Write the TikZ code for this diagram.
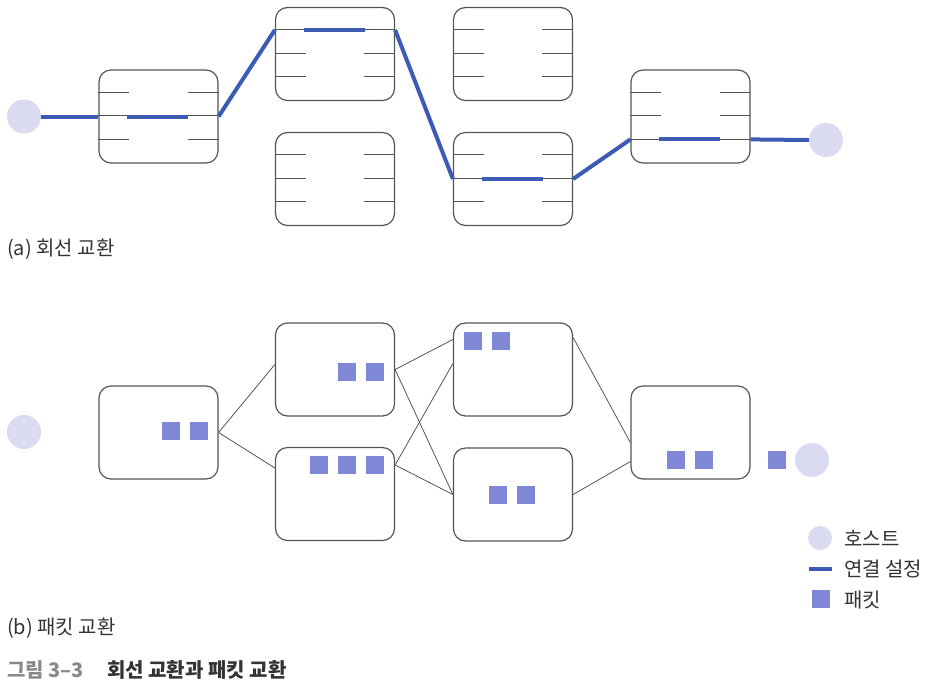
\documentclass[tikz,border=0pt]{standalone}
\usepackage{fontspec}
\setmainfont{Noto Sans CJK KR}
\usetikzlibrary{calc}
\definecolor{linkblue}{HTML}{3B5BB4}
\definecolor{hostc}{HTML}{DADAF0}
\definecolor{pktc}{HTML}{7F88D6}
\definecolor{boxc}{HTML}{555555}
\definecolor{capgray}{HTML}{8A8A8A}
\definecolor{txt}{HTML}{333333}
\tikzset{
  swbox/.style={draw=boxc,line width=1.2pt,rounded corners=12pt,minimum width=119pt,minimum height=93pt,inner sep=0pt},
  hostnode/.style={circle,fill=hostc,minimum size=34pt,inner sep=0pt},
  pkt/.style={fill=pktc,minimum size=18pt,inner sep=0pt,anchor=north west},
  stub/.style={draw=boxc,line width=0.9pt},
  link/.style={draw=linkblue,line width=4pt},
  wire/.style={draw=boxc,line width=0.8pt},
  lbl/.style={font=\fontsize{20}{22}\selectfont,text=txt,anchor=west,inner sep=0pt}
}
\newcommand{\swlines}[1]{%
  \foreach \r in {23,46.5,70}{%
    \draw[stub] ($(#1.north west)+(0,\r)$) -- ++(31,0);
    \draw[stub] ($(#1.north east)+(0,\r)$) -- ++(-31,0);
  }}
\begin{document}
\begin{tikzpicture}[x=1pt,y=-1pt]
\useasboundingbox (0,0) rectangle (936,686);
% ---------- (a) circuit switching ----------
\node[swbox] (A1) at (158.5,116.5) {};
\node[swbox] (B1) at (335,54) {};
\node[swbox] (B2) at (335,179) {};
\node[swbox] (C1) at (513,54) {};
\node[swbox] (C2) at (513,179) {};
\node[swbox] (D1) at (690.5,116.5) {};
\foreach \n in {A1,B1,B2,C1,C2,D1}{\swlines{\n}}
\node[hostnode] (HL) at (24,116.5) {};
\node[hostnode] (HR) at (826,140) {};
% blue connection
\draw[link] (HL.east) -- (A1.west);
\draw[link] ($(A1.west)+(29,0)$) -- ($(A1.west)+(90,0)$);
\draw[link] (A1.east) -- ($(B1.north west)+(0,23)$);
\draw[link] ($(B1.north west)+(29,23)$) -- ($(B1.north west)+(90,23)$);
\draw[link] ($(B1.north east)+(0,23)$) -- (C2.west);
\draw[link] ($(C2.west)+(29,0)$) -- ($(C2.west)+(90,0)$);
\draw[link] (C2.east) -- ($(D1.north west)+(0,70)$);
\draw[link] ($(D1.north west)+(29,70)$) -- ($(D1.north west)+(90,70)$);
\draw[link] ($(D1.north east)+(0,70)$) -- (HR.west);
\node[lbl] (la) at (7,249) {(a) 회선 교환};
% ---------- (b) packet switching ----------
\node[swbox] (PA) at (158.5,432.5) {};
\node[swbox] (PB1) at (335,369.5) {};
\node[swbox] (PB2) at (335,494) {};
\node[swbox] (PC1) at (513,369.5) {};
\node[swbox] (PC2) at (513,494.5) {};
\node[swbox] (PD) at (690.5,432.5) {};
\node[hostnode] (QL) at (24,432) {};
\node[hostnode] (QR) at (812,460) {};
\draw[wire] (PA.east) -- ($(PB1.west)+(0,-5)$);
\draw[wire] (PA.east) -- ($(PB2.west)+(0,-26)$);
\draw[wire] (PB1.east) -- ($(PC1.west)+(0,-30)$);
\draw[wire] (PB1.east) -- (PC2.west);
\draw[wire] ($(PB2.east)+(0,-29)$) -- ($(PC1.west)+(0,-6)$);
\draw[wire] ($(PB2.east)+(0,-29)$) -- (PC2.west);
\draw[wire] ($(PC1.east)+(0,-32)$) -- ($(PD.west)+(0,10)$);
\draw[wire] (PC2.east) -- ($(PD.west)+(0,29)$);
% packets
\node[pkt] (p1) at (162,422) {};
\node[pkt] (p2) at (190,422) {};
\node[pkt] (p3) at (338,363) {};
\node[pkt] (p4) at (366,363) {};
\node[pkt] (p5) at (310,456) {};
\node[pkt] (p6) at (338,456) {};
\node[pkt] (p7) at (366,456) {};
\node[pkt] (p8) at (464,332) {};
\node[pkt] (p9) at (492,332) {};
\node[pkt] (p10) at (489,486) {};
\node[pkt] (p11) at (517,486) {};
\node[pkt] (p12) at (667,451) {};
\node[pkt] (p13) at (695,451) {};
\node[pkt] (p14) at (768,451) {};
% legend
\node[circle,fill=hostc,minimum size=24pt,inner sep=0pt] (lgh) at (820,538) {};
\node[lbl] (lght) at (844,538) {호스트};
\coordinate (lgb1) at (809,569);
\coordinate (lgb2) at (832,569);
\draw[link] (lgb1) -- (lgb2);
\node[lbl] (lgbt) at (844,569) {연결 설정};
\node[pkt] (lgp) at (812,590) {};
\node[lbl] (lgpt) at (844,600) {패킷};
\node[lbl] (lb) at (7,628) {(b) 패킷 교환};
% caption
\node[lbl,font=\fontsize{20}{22}\selectfont\bfseries,text=capgray] (cap1) at (7,670) {그림 3–3};
\node[lbl,font=\fontsize{20}{22}\selectfont\bfseries,text=txt] (cap2) at (107,670) {회선 교환과 패킷 교환};
\end{tikzpicture}
\end{document}
